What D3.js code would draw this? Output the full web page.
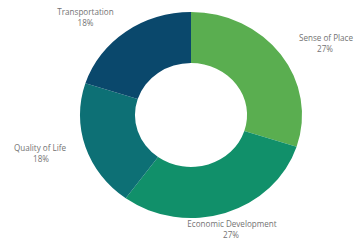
<!DOCTYPE html>
<html>
<head>
<meta charset="utf-8">
<script src="https://cdn.jsdelivr.net/npm/d3@7"></script>
<style>
  html, body { margin: 0; padding: 0; background: #fff; }
  svg { display: block; }
  text { font-family: "Open Sans", "Noto Sans", sans-serif; }
</style>
</head>
<body>
<svg id="chart" width="354" height="240"></svg>
<script>
// ---- data ----
const categories = ["Sense of Place", "Economic Development", "Quality of Life", "Transportation"];
const values = [27, 27, 18, 18];
const valueLabels = ["27%", "27%", "18%", "18%"];
const colors = ["#5aae50", "#11906a", "#0d7075", "#0a486c"];

// ---- layout ----
const W = 354, H = 240;
const cx = 191, cy = 115;
const outerR = 103, innerR = 52;
const xStretch = 1.078;

// label anchor positions (layout only)
const labelLayout = [
  { nx: 353, na: "end",    vx: 325, y: 41 },
  { nx: 232, na: "middle", vx: 231, y: 227 },
  { nx: 40,  na: "middle", vx: 41,  y: 151 },
  { nx: 85.5,na: "middle", vx: 85.5,y: 14.5 }
];

const svg = d3.select("#chart");
const pie = d3.pie().sort(null).value(d => d)(values);
const arc = d3.arc().innerRadius(innerR).outerRadius(outerR);

const g = svg.append("g").attr("transform", `translate(${cx},${cy}) scale(${xStretch},1)`);
g.selectAll("path").data(pie).join("path")
  .attr("d", arc)
  .attr("fill", (d, i) => colors[i]);

const labels = svg.append("g").attr("font-size", 8.1).attr("fill", "#737373");
categories.forEach((c, i) => {
  const L = labelLayout[i];
  labels.append("text").attr("x", L.nx).attr("y", L.y).attr("text-anchor", L.na).text(c);
  labels.append("text").attr("x", L.vx).attr("y", L.y + 11).attr("text-anchor", "middle").text(valueLabels[i]);
});
</script>
</body>
</html>
